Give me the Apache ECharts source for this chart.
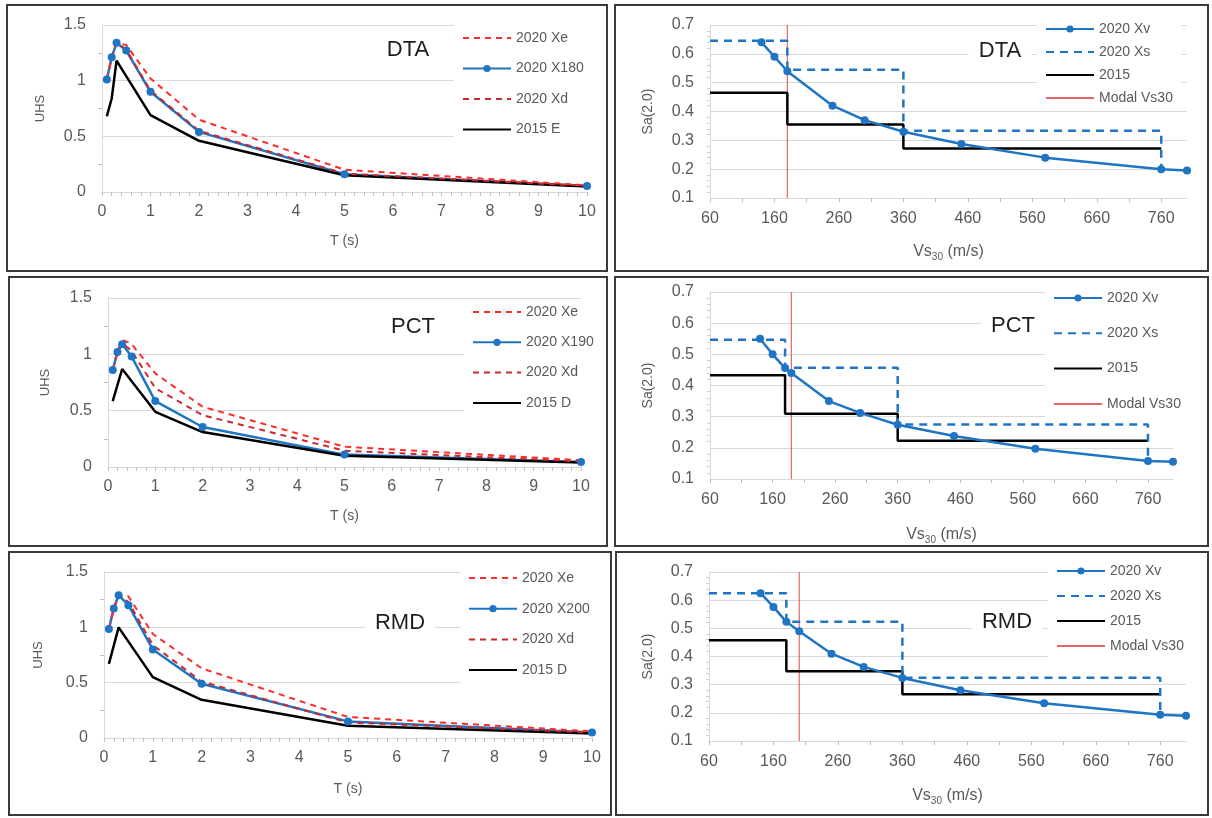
<!DOCTYPE html>
<html>
<head>
<meta charset="utf-8">
<script src="https://cdn.jsdelivr.net/npm/echarts@6/dist/echarts.min.js"></script>
<style>
  html, body { margin: 0; padding: 0; background: #fff; }
  #chart { width: 1212px; height: 818px; }
</style>
</head>
<body>
<div id="chart"></div>
<script>
// ---- data ----
// UHS periods T (s)
const periods = [0.1, 0.2, 0.3, 0.5, 1, 2, 5, 10]

// DTA
const dtaXe = [1.01, 1.21, 1.34, 1.32, 1.02, 0.65, 0.20, 0.06]
const dtaX180 = [1.01, 1.21, 1.34, 1.27, 0.90, 0.54, 0.16, 0.055]
const dtaXd = [1.01, 1.21, 1.34, 1.28, 0.91, 0.55, 0.165, 0.055]
const dta2015T = [0.1, 0.2, 0.3, 1, 2, 5, 10]
const dta2015 = [0.68, 0.84, 1.18, 0.69, 0.46, 0.15, 0.05]

// PCT
const pctXe = [0.86, 1.03, 1.13, 1.09, 0.83, 0.535, 0.18, 0.06]
const pctX190 = [0.86, 1.02, 1.09, 0.98, 0.585, 0.355, 0.11, 0.045]
const pctXd = [0.86, 1.02, 1.10, 1.03, 0.70, 0.46, 0.145, 0.05]
const pct2015T = [0.1, 0.3, 1, 2, 5, 10]
const pct2015 = [0.585, 0.87, 0.49, 0.31, 0.10, 0.04]

// RMD
const rmdXe = [0.985, 1.17, 1.29, 1.28, 0.94, 0.63, 0.19, 0.06]
const rmdX200 = [0.985, 1.17, 1.29, 1.20, 0.80, 0.49, 0.15, 0.05]
const rmdXd = [0.985, 1.17, 1.29, 1.23, 0.84, 0.51, 0.14, 0.05]
const rmd2015T = [0.1, 0.3, 1, 2, 5, 10]
const rmd2015 = [0.67, 1.0, 0.55, 0.345, 0.11, 0.04]

// Sa(2.0) vs Vs30
const dtaVs = [140, 160, 180, 250, 300, 360, 450, 580, 760, 800]
const dtaXv = [0.64, 0.59, 0.54, 0.42, 0.37, 0.33, 0.287, 0.24, 0.20, 0.195]
const pctVs = [140, 160, 180, 190, 250, 300, 360, 450, 580, 760, 800]
const pctXv = [0.55, 0.50, 0.456, 0.44, 0.35, 0.312, 0.274, 0.238, 0.197, 0.158, 0.155]
const rmdVs = [140, 160, 180, 200, 250, 300, 360, 450, 580, 760, 800]
const rmdXv = [0.625, 0.576, 0.523, 0.49, 0.41, 0.363, 0.324, 0.28, 0.234, 0.193, 0.19]

// site class step boundaries (m/s)
const classBreaks = [60, 180, 360, 760]
const dtaXs = [0.645, 0.545, 0.333]
const pctXs = [0.547, 0.457, 0.275]
const rmdXs = [0.625, 0.523, 0.325]
const dta2015Steps = [0.465, 0.355, 0.272]
const pct2015Steps = [0.433, 0.309, 0.223]
const rmd2015Steps = [0.458, 0.348, 0.266]
const dtaModal = 180
const pctModal = 190
const rmdModal = 200

// axis ticks
const vsTicks = [60, 160, 260, 360, 460, 560, 660, 760]
const vsMinorTicks = [60, 110, 160, 210, 260, 310, 360, 410, 460, 510, 560, 610, 660, 710, 760]

// ---- styles ----
const FONT = 'Liberation Sans, Arial, sans-serif'
const GRAY = '#595959'
const GRID = '#d9d9d9'
const BLUE = '#1f74c4'
const RED = '#ff2b2b'
const DARKRED = '#c62a30'

const zip = (xs, ys) => xs.map((x, i) => [x, ys[i]])

// step line: horizontal levels between the breaks, optional drop at the end
const stepData = (breaks, levels, endVal) => {
  const pts = []
  levels.forEach((v, k) => {
    pts.push([breaks[k], v], [breaks[k + 1], v])
  })
  if (endVal != null) pts.push([breaks[breaks.length - 1], endVal])
  return pts
}

const option = {
  animation: false,
  grid: [], xAxis: [], yAxis: [], series: [], legend: [], graphic: []
}

function addFrame(x, y, w, h) {
  option.graphic.push({
    type: 'rect', shape: { x, y, width: w, height: h }, z: 50,
    style: { fill: 'none', stroke: '#3a3a3a', lineWidth: 2 }
  })
}

function addLabel(text, x, y) {
  option.graphic.push({
    type: 'text', x, y, z: 20,
    style: {
      text, font: '22px ' + FONT, fill: '#1e1e1e', align: 'center', verticalAlign: 'middle',
      backgroundColor: '#fff', padding: [4, 10]
    }
  })
}

// items: [name, hasMarker]
function addLegend(items, left, top, gap) {
  option.legend.push({
    data: items.map(([name, marker]) => marker ? { name } : { name, itemStyle: { opacity: 0 } }),
    orient: 'vertical', left, top, itemGap: gap,
    itemWidth: 48, itemHeight: 9, padding: [6, 8, 6, 8],
    backgroundColor: '#fff', selectedMode: false,
    textStyle: { color: GRAY, fontSize: 14, fontFamily: FONT }
  })
}

// UHS panel (left column)
function uhsPanel(p) {
  const i = option.grid.length
  option.grid.push({ left: p.grid[0], top: p.grid[1], width: p.grid[2], height: p.grid[3] })
  option.xAxis.push({
    gridIndex: i, type: 'value', min: 0, max: 10, interval: 1,
    name: 'T (s)', nameLocation: 'middle', nameGap: p.xNameGap,
    nameTextStyle: { color: GRAY, fontSize: 14, fontFamily: FONT },
    axisLine: { lineStyle: { color: GRID } },
    axisTick: { show: true, length: 4, lineStyle: { color: '#bfbfbf' } },
    minorTick: { show: true, splitNumber: 5, length: 4, lineStyle: { color: '#bfbfbf' } },
    axisLabel: { color: GRAY, fontSize: 16, fontFamily: FONT, margin: 12 },
    splitLine: { show: false }
  })
  option.yAxis.push({
    gridIndex: i, type: 'value', min: 0, max: 1.5, interval: 0.5,
    name: 'UHS', nameLocation: 'middle', nameGap: p.yNameGap,
    nameTextStyle: { color: GRAY, fontSize: 13, fontFamily: FONT },
    axisLine: { show: true, lineStyle: { color: GRID } },
    axisTick: { show: false },
    minorTick: { show: true, splitNumber: 2, length: 4, lineStyle: { color: '#bfbfbf' } },
    axisLabel: { color: GRAY, fontSize: 16, fontFamily: FONT, margin: 16 },
    splitLine: { lineStyle: { color: GRID } }
  })
  const base = { type: 'line', xAxisIndex: i, yAxisIndex: i }
  option.series.push(
    { ...base, name: p.names[1], data: zip(periods, p.mid), symbol: 'circle', symbolSize: 8,
      lineStyle: { color: BLUE, width: 2.5 }, itemStyle: { color: BLUE } },
    { ...base, name: p.names[3], data: zip(p.oldT, p.old), symbol: 'none',
      lineStyle: { color: '#000', width: 2.5 }, itemStyle: { color: '#000' } },
    { ...base, name: p.names[2], data: zip(periods, p.xd), symbol: 'none',
      lineStyle: { color: DARKRED, width: 2, type: [6, 5] }, itemStyle: { color: DARKRED } },
    { ...base, name: p.names[0], data: zip(periods, p.xe), symbol: 'none',
      lineStyle: { color: RED, width: 2, type: [6, 5] }, itemStyle: { color: RED } }
  )
  addLegend([[p.names[0], false], [p.names[1], true], [p.names[2], false], [p.names[3], false]],
    p.legend[0], p.legend[1], p.legend[2])
  addLabel(p.label, p.labelPos[0], p.labelPos[1])
}

// Sa(2.0) vs Vs30 panel (right column)
function vsPanel(p) {
  const i = option.grid.length
  option.grid.push({ left: p.grid[0], top: p.grid[1], width: p.grid[2], height: p.grid[3] })
  option.xAxis.push({
    gridIndex: i, type: 'value', min: 60, max: 800,
    name: '{a|Vs}{b|30}{a| (m/s)}', nameLocation: 'middle', nameGap: p.xNameGap,
    nameTextStyle: {
      rich: {
        a: { color: GRAY, fontSize: 16, fontFamily: FONT },
        b: { color: GRAY, fontSize: 10, fontFamily: FONT, padding: [10, 0, 0, 0] }
      }
    },
    axisLine: { lineStyle: { color: GRID } },
    axisTick: { show: true, length: 4, customValues: vsMinorTicks, lineStyle: { color: '#bfbfbf' } },
    axisLabel: { color: GRAY, fontSize: 16, fontFamily: FONT, margin: 13, customValues: vsTicks },
    splitLine: { show: false }
  })
  option.yAxis.push({
    gridIndex: i, type: 'value', min: 0.1, max: 0.7, interval: 0.1,
    name: 'Sa(2.0)', nameLocation: 'middle', nameGap: p.yNameGap,
    nameTextStyle: { color: GRAY, fontSize: 14, fontFamily: FONT },
    axisLine: { show: true, lineStyle: { color: GRID } },
    axisTick: { show: false },
    minorTick: { show: true, splitNumber: 5, length: 3, lineStyle: { color: '#cfcfcf' } },
    axisLabel: { color: GRAY, fontSize: 16, fontFamily: FONT, margin: 16, formatter: v => v.toFixed(1) },
    splitLine: { lineStyle: { color: GRID } }
  })
  const base = { type: 'line', xAxisIndex: i, yAxisIndex: i, symbol: 'none' }
  const last = p.xv[p.vs.indexOf(760)]
  option.series.push(
    { ...base, name: 'Modal Vs30', data: [[p.modal, 0.1], [p.modal, 0.7]],
      lineStyle: { color: 'rgba(226,50,50,0.75)', width: 1.2 }, itemStyle: { color: 'rgba(226,50,50,0.75)' } },
    { ...base, name: '2015', data: stepData(classBreaks, p.old),
      lineStyle: { color: '#000', width: 2.5 }, itemStyle: { color: '#000' } },
    { ...base, name: '2020 Xs', data: stepData(classBreaks, p.xs, last),
      lineStyle: { color: BLUE, width: 2.5, type: [8, 6] }, itemStyle: { color: BLUE } },
    { ...base, name: '2020 Xv', data: zip(p.vs, p.xv), symbol: 'circle', symbolSize: 8,
      lineStyle: { color: BLUE, width: 2.5 }, itemStyle: { color: BLUE } }
  )
  addLegend([['2020 Xv', true], ['2020 Xs', false], ['2015', false], ['Modal Vs30', false]],
    p.legend[0], p.legend[1], p.legend[2])
  addLabel(p.label, p.labelPos[0], p.labelPos[1])
}

// frames
addFrame(7, 5, 600, 266)
addFrame(615, 5, 593, 266)
addFrame(9, 277, 598, 269)
addFrame(615, 277, 593, 269)
addFrame(9, 552, 602, 263)
addFrame(616, 552, 592, 263)

uhsPanel({
  grid: [102, 25, 485, 167], xNameGap: 42, yNameGap: 55,
  names: ['2020 Xe', '2020 X180', '2020 Xd', '2015 E'],
  xe: dtaXe, mid: dtaX180, xd: dtaXd, oldT: dta2015T, old: dta2015,
  legend: [454, 25, 16.5], label: 'DTA', labelPos: [408, 50]
})
vsPanel({
  grid: [710, 25, 477, 173], xNameGap: 44, yNameGap: 55,
  vs: dtaVs, xv: dtaXv, xs: dtaXs, old: dta2015Steps, modal: dtaModal,
  legend: [1037, 16, 9], label: 'DTA', labelPos: [1000, 51]
})
uhsPanel({
  grid: [108, 298, 473, 169], xNameGap: 42, yNameGap: 56,
  names: ['2020 Xe', '2020 X190', '2020 Xd', '2015 D'],
  xe: pctXe, mid: pctX190, xd: pctXd, oldT: pct2015T, old: pct2015,
  legend: [464, 299, 16.3], label: 'PCT', labelPos: [413, 327]
})
vsPanel({
  grid: [710, 292, 463, 187], xNameGap: 46, yNameGap: 55,
  vs: pctVs, xv: pctXv, xs: pctXs, old: pct2015Steps, modal: pctModal,
  legend: [1045, 285, 21.3], label: 'PCT', labelPos: [1013, 326]
})
uhsPanel({
  grid: [104, 572, 488, 166], xNameGap: 44, yNameGap: 59,
  names: ['2020 Xe', '2020 X200', '2020 Xd', '2015 D'],
  xe: rmdXe, mid: rmdX200, xd: rmdXd, oldT: rmd2015T, old: rmd2015,
  legend: [460, 565, 16.7], label: 'RMD', labelPos: [400, 623]
})
vsPanel({
  grid: [709, 572, 477, 169], xNameGap: 45, yNameGap: 54,
  vs: rmdVs, xv: rmdXv, xs: rmdXs, old: rmd2015Steps, modal: rmdModal,
  legend: [1048, 558, 11], label: 'RMD', labelPos: [1007, 622]
})

const chart = echarts.init(document.getElementById('chart'))
chart.setOption(option)
</script>
</body>
</html>
